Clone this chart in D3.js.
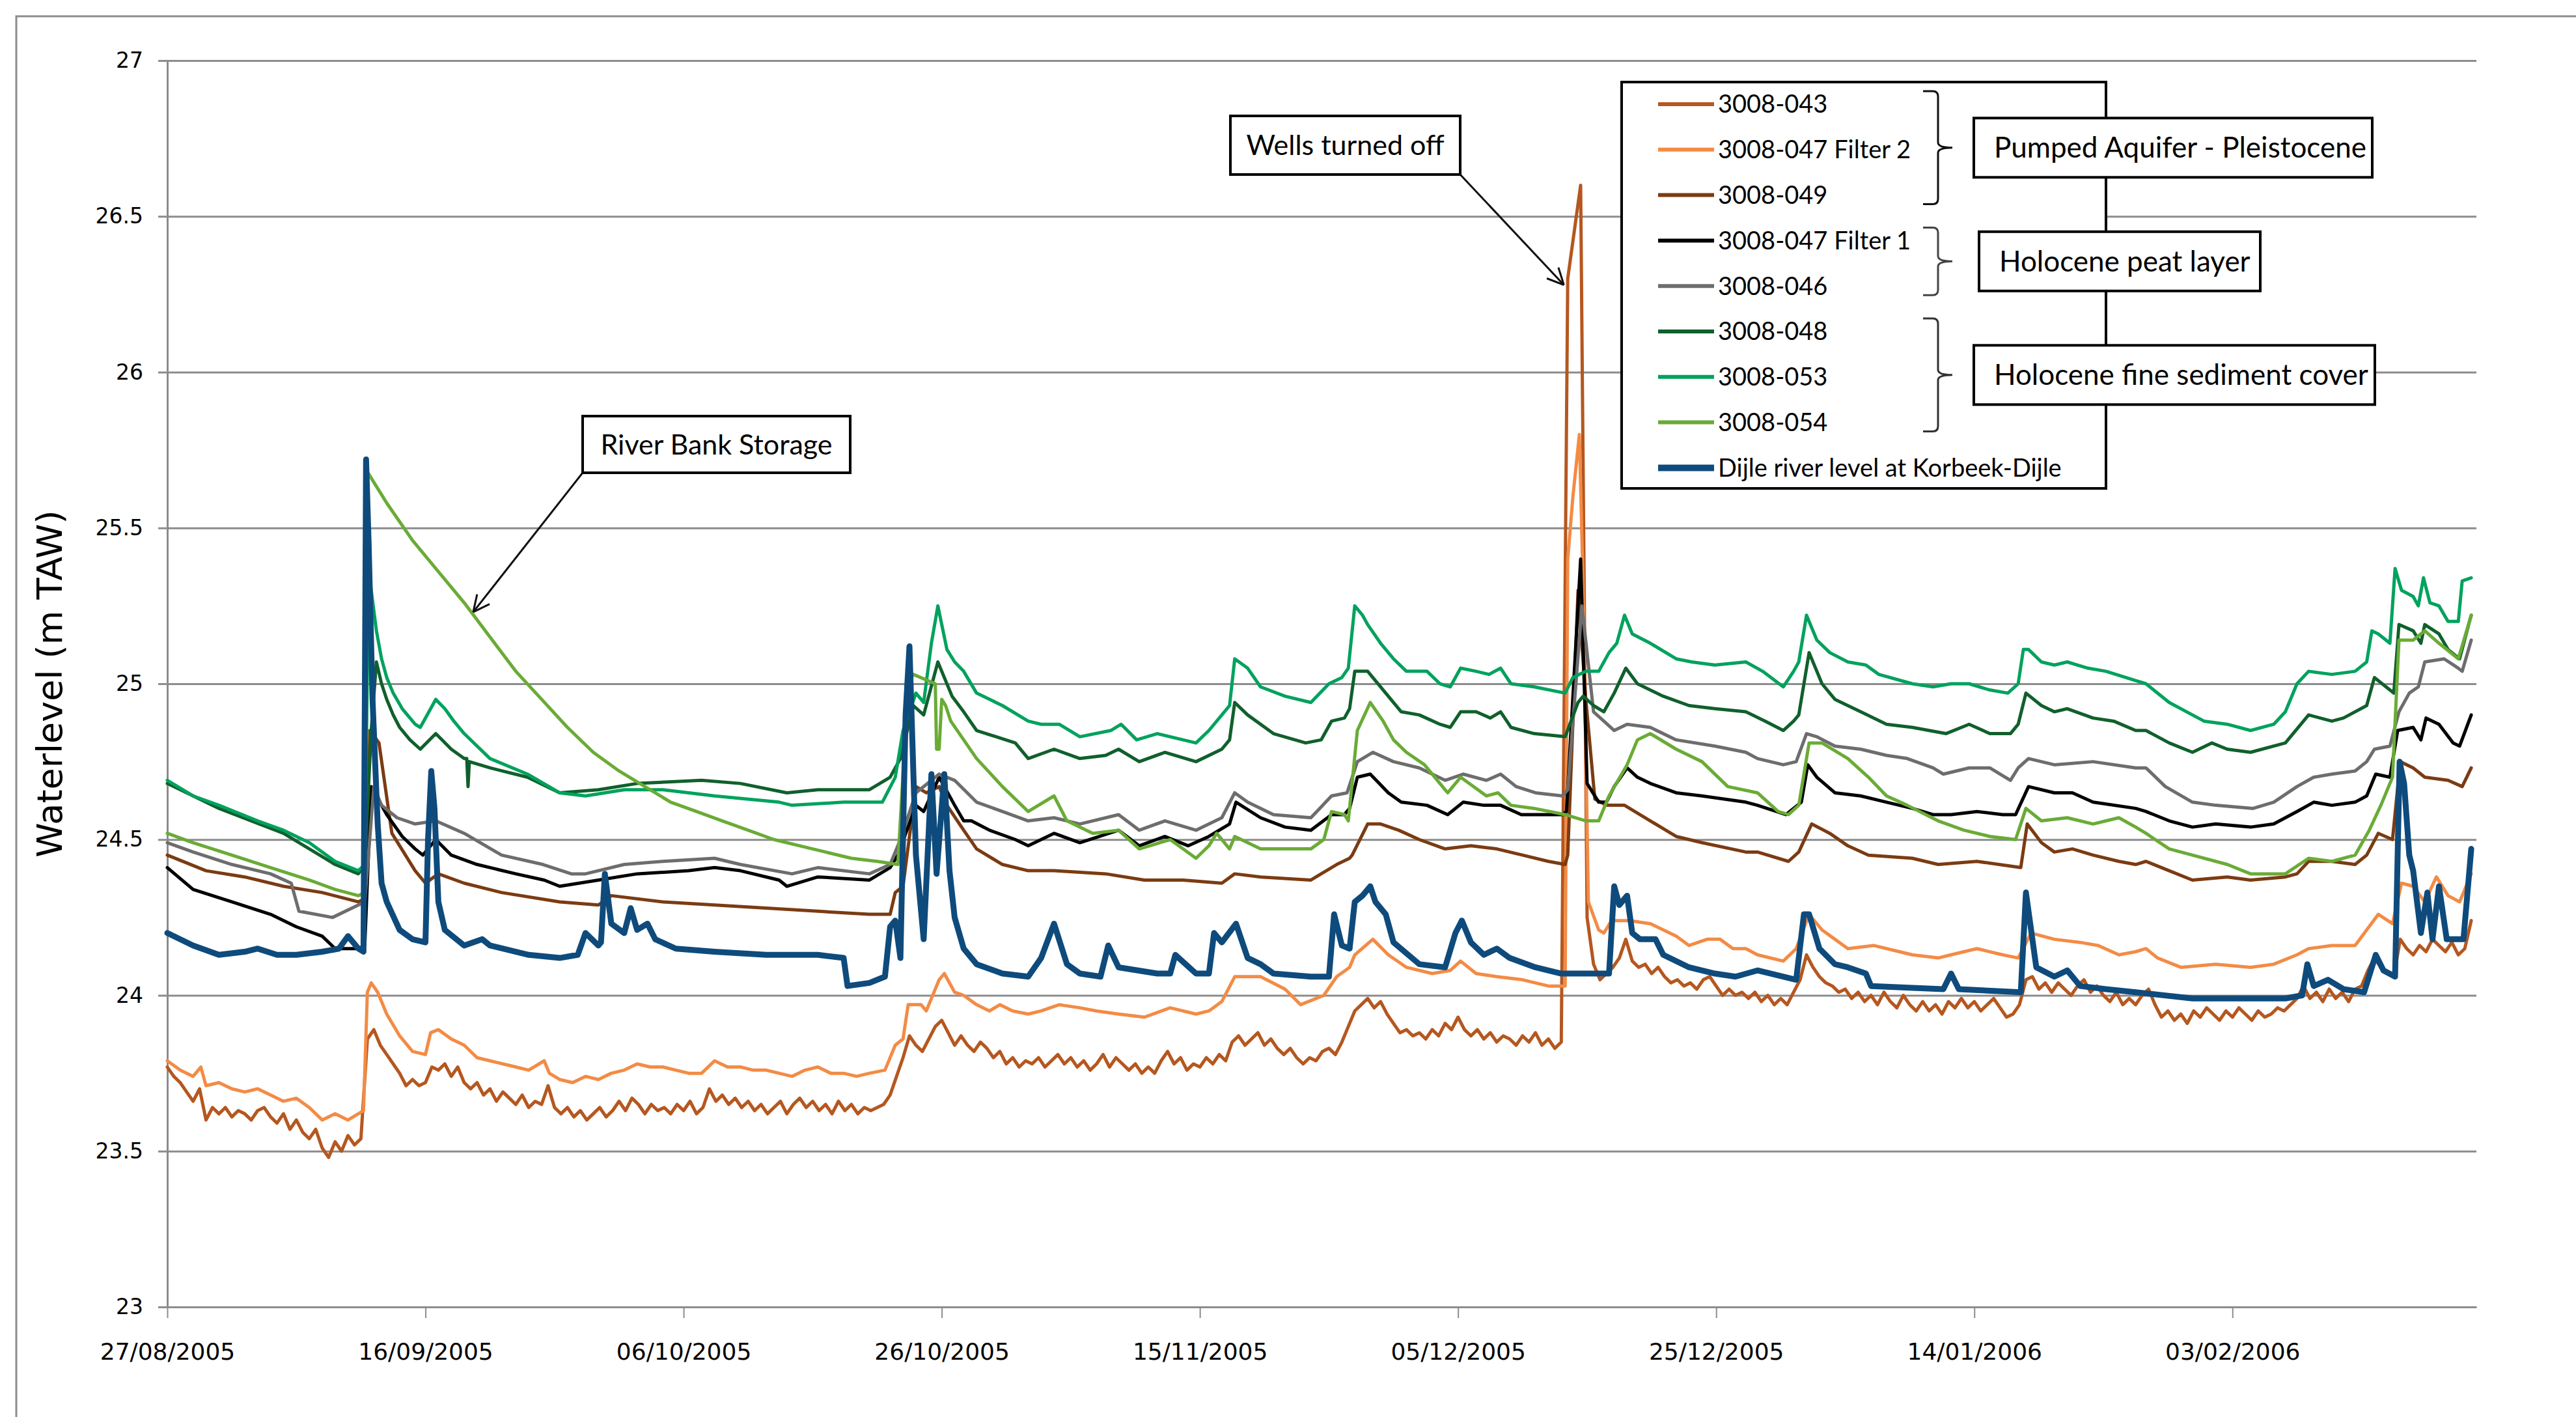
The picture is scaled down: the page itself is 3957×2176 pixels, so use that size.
<!DOCTYPE html>
<html>
<head>
<meta charset="utf-8">
<script src="https://cdn.jsdelivr.net/npm/d3@7"></script>
<style>
  html, body { margin: 0; padding: 0; background: #ffffff; }
  svg { display: block; }
</style>
</head>
<body>
<svg id="chart"></svg>
<script>
// ---------- data ----------
// Time is given in days after 27/08/2005 00:00.
const startDateText = "27/08/2005";
const lastDay = 178.9;

const yTickValues = [23, 23.5, 24, 24.5, 25, 25.5, 26, 26.5, 27];
const yTickLabels = ["23", "23.5", "24", "24.5", "25", "25.5", "26", "26.5", "27"];
const xTickLabels = ["27/08/2005", "16/09/2005", "06/10/2005", "26/10/2005", "15/11/2005",
                     "05/12/2005", "25/12/2005", "14/01/2006", "03/02/2006"];

const seriesNames = ["3008-043", "3008-047 Filter 2", "3008-049", "3008-047 Filter 1", "3008-046",
                     "3008-048", "3008-053", "3008-054", "Dijle river level at Korbeek-Dijle"];

// 3008-043: readings every half day from day 0
const s043Step = 0.5;
const s043 = [
  23.77,23.74,23.72,23.69,23.66,23.70,23.60,23.64,23.62,23.64,23.61,23.63,23.62,23.60,23.63,23.64,23.61,23.59,23.62,23.57,
  23.60,23.56,23.54,23.57,23.51,23.48,23.53,23.50,23.55,23.52,23.54,23.86,23.89,23.84,23.81,23.78,23.75,23.71,23.73,23.71,
  23.72,23.77,23.76,23.78,23.74,23.77,23.72,23.70,23.72,23.68,23.70,23.66,23.69,23.67,23.65,23.68,23.64,23.66,23.65,23.71,
  23.64,23.62,23.64,23.61,23.63,23.60,23.62,23.64,23.61,23.63,23.66,23.63,23.67,23.65,23.62,23.65,23.63,23.64,23.62,23.65,
  23.63,23.66,23.62,23.64,23.70,23.66,23.68,23.65,23.67,23.64,23.66,23.63,23.65,23.62,23.64,23.66,23.62,23.65,23.67,23.64,
  23.66,23.63,23.65,23.62,23.66,23.63,23.65,23.62,23.64,23.63,23.64,23.65,23.68,23.74,23.80,23.87,23.84,23.82,23.86,23.90,
  23.92,23.88,23.84,23.87,23.84,23.82,23.85,23.83,23.80,23.82,23.78,23.80,23.77,23.79,23.78,23.80,23.77,23.79,23.81,23.78,
  23.80,23.77,23.79,23.76,23.78,23.81,23.77,23.80,23.78,23.76,23.78,23.75,23.77,23.75,23.79,23.82,23.78,23.80,23.76,23.78,
  23.77,23.80,23.78,23.81,23.79,23.85,23.87,23.84,23.86,23.88,23.84,23.86,23.83,23.81,23.83,23.80,23.78,23.80,23.79,23.82,
  23.83,23.81,23.85,23.90,23.95,23.97,23.99,23.96,23.98,23.94,23.91,23.88,23.89,23.87,23.88,23.86,23.89,23.87,23.91,23.89,
  23.93,23.89,23.87,23.89,23.86,23.88,23.85,23.87,23.86,23.84,23.87,23.85,23.88,23.84,23.86,23.83,23.85,26.30,26.45,26.60,
  24.25,24.10,24.05,24.07,24.09,24.12,24.18,24.11,24.09,24.10,24.07,24.09,24.06,24.04,24.05,24.03,24.04,24.02,24.05,24.06,
  24.03,24.00,24.02,24.00,24.01,23.99,24.01,23.98,24.00,23.97,23.99,23.97,24.01,24.05,24.13,24.09,24.06,24.04,24.03,24.01,
  24.02,23.99,24.01,23.98,24.00,23.97,24.01,23.98,23.96,24.00,23.97,23.95,23.98,23.95,23.97,23.94,23.98,23.96,23.99,23.96,
  23.98,23.95,23.97,23.99,23.96,23.93,23.94,23.97,24.05,24.06,24.02,24.04,24.01,24.04,24.02,24.00,24.03,24.05,24.01,24.03,
  24.00,23.98,24.01,23.97,23.99,23.97,24.00,24.02,23.97,23.93,23.95,23.92,23.94,23.91,23.95,23.93,23.96,23.94,23.92,23.95,
  23.93,23.96,23.94,23.92,23.95,23.93,23.94,23.96,23.95,23.97,23.99,24.03,23.99,24.01,23.98,24.02,23.99,24.01,23.98,24.02,
  24.03,24.08,24.12,24.09,24.07,24.06,24.18,24.15,24.13,24.16,24.14,24.18,24.16,24.14,24.17,24.13,24.15,24.24
];

// the remaining series as [day, level] pairs
const s047f2 = [[0,23.79],[1,23.76],[2,23.74],[2.6,23.77],[3,23.71],[4,23.72],[5,23.70],[6,23.69],[7,23.70],[8,23.68],[9,23.66],[10,23.67],[11,23.64],[12,23.60],[13,23.62],[14,23.60],[14.8,23.62],[15.2,23.63],[15.5,24.01],[15.8,24.04],[16.3,24.01],[17,23.94],[18,23.87],[19,23.82],[20,23.81],[20.4,23.88],[21,23.89],[22,23.86],[23,23.84],[24,23.80],[25,23.79],[26,23.78],[27,23.77],[28,23.76],[29.2,23.79],[29.6,23.75],[30.4,23.73],[31.4,23.72],[32.4,23.74],[33.4,23.73],[34.4,23.75],[35.4,23.76],[36.4,23.78],[37.4,23.77],[38.4,23.77],[39.4,23.76],[40.4,23.75],[41.4,23.75],[42.4,23.79],[43.4,23.77],[44.4,23.77],[45.4,23.76],[46.4,23.76],[47.4,23.75],[48.4,23.74],[49.4,23.76],[50.4,23.77],[51.4,23.75],[52.4,23.75],[53.4,23.74],[54.4,23.75],[55.6,23.76],[56.4,23.84],[57.0,23.86],[57.4,23.97],[58.4,23.97],[58.8,23.95],[59.8,24.05],[60.2,24.07],[61.0,24.01],[61.7,24.00],[62.7,23.97],[63.7,23.95],[64.5,23.97],[65.5,23.95],[66.7,23.94],[67.7,23.95],[69.1,23.97],[70.7,23.96],[72.0,23.95],[73.7,23.94],[75.7,23.93],[77.7,23.96],[79.7,23.94],[80.7,23.95],[81.7,23.98],[82.7,24.06],[84.7,24.06],[86.6,24.02],[87.8,23.97],[89.6,24.00],[90.6,24.06],[91.6,24.09],[92.0,24.13],[93.4,24.18],[94.6,24.13],[96.0,24.09],[98.0,24.07],[99.4,24.08],[100.2,24.11],[101.4,24.07],[103.0,24.06],[105.0,24.05],[107.0,24.03],[108.3,24.03],[108.5,25.40],[108.9,25.60],[109.4,25.80],[109.7,25.30],[110.1,24.30],[110.9,24.21],[111.3,24.20],[111.9,24.24],[113.3,24.24],[114.9,24.23],[116.9,24.19],[117.9,24.16],[119.3,24.18],[120.3,24.18],[121.3,24.15],[122.3,24.15],[123.2,24.13],[125.2,24.11],[126.2,24.15],[127.2,24.26],[128.2,24.21],[129.2,24.18],[130.2,24.15],[132.2,24.16],[134.2,24.14],[135.2,24.13],[137.2,24.12],[138.2,24.13],[140.2,24.15],[142.2,24.13],[143.4,24.12],[144.4,24.20],[146.2,24.18],[148.2,24.17],[149.6,24.16],[151.2,24.13],[152.5,24.14],[153.3,24.15],[154.2,24.12],[156.0,24.09],[158.7,24.10],[161.4,24.09],[163.2,24.10],[165.0,24.13],[165.9,24.15],[167.7,24.16],[169.5,24.16],[171.3,24.26],[172.4,24.23],[173.1,24.36],[174.0,24.35],[174.9,24.30],[175.8,24.38],[176.7,24.32],[177.6,24.30],[178.5,24.39]];

const s049 = [[0,24.45],[3,24.40],[6,24.38],[9,24.35],[12,24.33],[14.8,24.30],[15.3,24.31],[15.7,24.85],[16.4,24.81],[17.4,24.52],[19.2,24.40],[20.0,24.36],[21.0,24.39],[23.0,24.36],[25.9,24.33],[30.4,24.30],[33.4,24.29],[34.4,24.32],[38.4,24.30],[42.4,24.29],[46.4,24.28],[50.4,24.27],[54.4,24.26],[56.0,24.26],[56.4,24.33],[57.0,24.35],[58.0,24.67],[58.8,24.65],[59.8,24.67],[60.4,24.61],[61.7,24.53],[62.7,24.47],[64.7,24.42],[66.7,24.40],[68.7,24.40],[72.7,24.39],[75.7,24.37],[78.7,24.37],[81.7,24.36],[82.7,24.39],[84.7,24.38],[88.6,24.37],[90.6,24.42],[91.6,24.44],[91.8,24.45],[93.0,24.55],[94.0,24.55],[95.4,24.53],[97.0,24.50],[99.0,24.47],[101.0,24.48],[103.0,24.47],[105.0,24.45],[107.0,24.43],[108.3,24.42],[108.5,24.45],[109.3,25.30],[109.9,24.95],[110.6,24.63],[111.5,24.61],[112.9,24.61],[114.9,24.56],[116.9,24.51],[118.9,24.49],[122.3,24.46],[123.2,24.46],[125.6,24.43],[126.4,24.46],[127.4,24.55],[128.8,24.52],[130.2,24.48],[131.8,24.45],[135.2,24.44],[137.2,24.42],[140.2,24.43],[143.6,24.41],[144.1,24.55],[145.2,24.49],[146.2,24.46],[147.6,24.47],[149.2,24.45],[151.2,24.43],[152.5,24.42],[153.3,24.43],[155.1,24.40],[156.9,24.37],[159.6,24.38],[161.4,24.37],[164.1,24.38],[165.0,24.39],[165.9,24.43],[167.7,24.43],[169.5,24.42],[170.4,24.45],[171.3,24.52],[172.4,24.50],[173.0,24.75],[174.0,24.73],[174.9,24.70],[176.7,24.69],[177.8,24.67],[178.5,24.73]];

const s047f1 = [[0,24.41],[2,24.34],[5,24.30],[8,24.26],[10,24.22],[12,24.19],[13,24.15],[14.8,24.15],[15.3,24.16],[15.8,24.67],[17.0,24.58],[18.2,24.51],[19.2,24.47],[19.8,24.45],[20.8,24.50],[22.0,24.45],[24.0,24.42],[27.0,24.39],[29.2,24.37],[30.4,24.35],[33.4,24.37],[36.4,24.39],[40.4,24.40],[42.4,24.41],[44.4,24.40],[47.4,24.37],[48.0,24.35],[50.4,24.38],[54.4,24.37],[56.0,24.41],[56.6,24.45],[58.0,24.61],[58.6,24.59],[59.8,24.70],[61.0,24.61],[61.7,24.56],[62.3,24.56],[63.7,24.53],[65.7,24.50],[66.7,24.48],[68.7,24.52],[70.7,24.49],[73.7,24.53],[75.3,24.48],[77.3,24.51],[79.1,24.48],[80.7,24.51],[82.3,24.55],[82.8,24.62],[84.7,24.57],[86.6,24.54],[88.6,24.53],[90.2,24.58],[91.2,24.58],[91.6,24.60],[92.2,24.70],[93.2,24.71],[94.6,24.65],[95.6,24.62],[97.6,24.61],[99.2,24.58],[100.4,24.62],[102.0,24.61],[103.3,24.61],[104.9,24.58],[108.1,24.58],[108.4,24.59],[109.5,25.40],[110.0,24.68],[110.9,24.62],[111.5,24.62],[112.1,24.67],[113.1,24.73],[113.9,24.70],[114.9,24.68],[116.9,24.65],[118.9,24.64],[122.3,24.62],[123.2,24.61],[125.4,24.58],[126.6,24.62],[127.1,24.74],[127.8,24.70],[129.2,24.65],[131.2,24.64],[133.2,24.62],[135.2,24.60],[136.8,24.58],[138.2,24.58],[140.2,24.59],[142.2,24.58],[143.2,24.58],[144.2,24.67],[146.2,24.65],[147.6,24.65],[149.2,24.62],[152.5,24.60],[153.3,24.59],[155.1,24.56],[156.9,24.54],[158.7,24.55],[161.4,24.54],[163.2,24.55],[165.0,24.59],[166.3,24.62],[167.7,24.61],[169.5,24.62],[170.4,24.64],[171.1,24.71],[172.2,24.70],[172.8,24.85],[174.0,24.86],[174.6,24.82],[175.0,24.89],[176.0,24.87],[177.1,24.81],[177.6,24.80],[178.5,24.90]];

const s046 = [[0,24.49],[2,24.46],[5,24.42],[8,24.39],[9.6,24.36],[10.2,24.27],[12.8,24.25],[14.8,24.29],[15.3,24.30],[16.0,24.67],[16.6,24.61],[17.8,24.57],[19.2,24.55],[20.8,24.56],[23.0,24.52],[25.9,24.45],[29.1,24.42],[31.3,24.39],[32.4,24.39],[35.4,24.42],[38.4,24.43],[42.4,24.44],[44.4,24.42],[48.4,24.39],[50.4,24.41],[54.4,24.39],[56.0,24.42],[56.8,24.50],[58.0,24.65],[59.8,24.71],[61.0,24.69],[62.7,24.62],[64.7,24.59],[66.7,24.56],[68.7,24.57],[70.7,24.55],[73.7,24.58],[75.3,24.53],[77.3,24.56],[79.7,24.53],[81.7,24.57],[82.7,24.65],[83.7,24.62],[85.7,24.58],[88.6,24.57],[90.2,24.64],[91.4,24.65],[92.2,24.75],[93.4,24.78],[95.0,24.75],[97.0,24.73],[99.0,24.69],[100.4,24.71],[102.2,24.69],[103.3,24.71],[104.5,24.67],[106.0,24.65],[108.1,24.64],[108.5,24.66],[109.6,25.25],[110.5,24.91],[111.3,24.88],[112.1,24.85],[113.1,24.87],[114.9,24.86],[116.9,24.82],[119.9,24.80],[122.3,24.78],[123.2,24.76],[125.2,24.74],[126.2,24.75],[127.0,24.84],[127.8,24.83],[129.2,24.80],[131.2,24.79],[133.2,24.77],[134.8,24.76],[136.8,24.73],[137.6,24.71],[139.6,24.73],[141.2,24.73],[142.8,24.69],[143.4,24.73],[144.2,24.76],[146.2,24.74],[149.2,24.75],[152.5,24.73],[153.3,24.73],[154.8,24.67],[156.9,24.62],[158.7,24.61],[161.6,24.60],[163.2,24.62],[165.0,24.67],[166.3,24.70],[167.7,24.71],[169.5,24.72],[170.4,24.75],[171.0,24.79],[172.2,24.80],[172.9,24.91],[173.7,24.97],[174.4,24.99],[174.9,25.07],[176.4,25.08],[177.5,25.05],[177.8,25.04],[178.5,25.14]];

const s048 = [[0,24.68],[4,24.60],[9,24.52],[13,24.42],[14.8,24.39],[15.3,24.42],[15.8,24.85],[16.2,25.07],[16.6,25.00],[17.0,24.95],[17.5,24.90],[18.0,24.86],[18.8,24.82],[19.6,24.79],[20.8,24.84],[22.0,24.79],[23.0,24.76],[23.2,24.76],[23.3,24.67],[23.4,24.75],[25.0,24.73],[27.9,24.70],[30.4,24.65],[33.4,24.66],[36.4,24.68],[41.4,24.69],[44.4,24.68],[48.0,24.65],[50.4,24.66],[54.4,24.66],[56.0,24.70],[56.8,24.76],[57.8,24.93],[58.6,24.90],[59.7,25.07],[60.8,24.96],[61.7,24.91],[62.7,24.85],[65.7,24.81],[66.7,24.76],[68.7,24.79],[70.7,24.76],[72.7,24.77],[73.7,24.79],[75.3,24.75],[77.3,24.78],[79.7,24.75],[81.7,24.79],[82.3,24.82],[82.7,24.94],[83.7,24.90],[85.7,24.84],[88.2,24.81],[89.4,24.82],[90.2,24.88],[91.2,24.89],[91.6,24.92],[92.0,25.04],[93.0,25.04],[94.4,24.97],[95.6,24.91],[97.0,24.90],[98.6,24.87],[99.4,24.86],[100.2,24.91],[101.4,24.91],[102.5,24.89],[103.3,24.91],[104.1,24.86],[105.9,24.84],[108.3,24.83],[109.3,24.94],[109.7,24.96],[110.5,24.93],[111.3,24.91],[112.1,24.97],[113.0,25.05],[113.9,25.00],[115.9,24.96],[117.9,24.93],[119.9,24.92],[122.3,24.91],[123.8,24.88],[125.2,24.85],[126.0,24.88],[126.4,24.90],[127.2,25.10],[128.2,25.00],[129.2,24.95],[131.2,24.91],[133.2,24.87],[135.2,24.86],[137.8,24.84],[139.6,24.87],[141.2,24.84],[142.8,24.84],[143.4,24.87],[144.0,24.97],[145.2,24.93],[146.2,24.91],[147.2,24.92],[149.2,24.89],[150.8,24.88],[152.5,24.85],[153.3,24.85],[155.1,24.81],[156.9,24.78],[158.4,24.81],[159.6,24.79],[161.4,24.78],[164.1,24.81],[165.9,24.90],[167.7,24.88],[168.6,24.89],[170.4,24.93],[171.0,25.02],[172.2,24.98],[172.5,24.97],[172.9,25.19],[174.0,25.17],[174.6,25.13],[174.9,25.19],[176.0,25.16],[176.7,25.11],[177.6,25.08],[178.3,25.19],[178.5,25.22]];

const s053 = [[0,24.69],[2,24.64],[4,24.61],[7,24.56],[9,24.53],[11,24.49],[13,24.43],[14.8,24.40],[15.3,24.42],[15.6,25.35],[15.8,25.30],[16.2,25.17],[16.6,25.08],[17.0,25.02],[17.5,24.97],[18.2,24.92],[19.2,24.87],[19.6,24.86],[20.8,24.95],[21.5,24.92],[22.2,24.88],[23,24.84],[25,24.76],[27.9,24.71],[30.4,24.65],[32.4,24.64],[35.4,24.66],[38.4,24.66],[42.4,24.64],[47.4,24.62],[48.4,24.61],[52.4,24.62],[55.4,24.62],[56.4,24.70],[57.0,24.85],[58.0,24.97],[58.6,24.94],[59.2,25.13],[59.7,25.25],[60.4,25.11],[61.0,25.07],[61.7,25.04],[62.7,24.97],[64.7,24.93],[66.7,24.88],[67.7,24.87],[69.1,24.87],[70.7,24.83],[73.1,24.85],[73.9,24.87],[75.1,24.82],[76.7,24.84],[79.7,24.81],[80.7,24.85],[81.9,24.91],[82.3,24.93],[82.7,25.08],[83.7,25.05],[84.7,24.99],[86.6,24.96],[88.6,24.94],[90.0,25.00],[91.0,25.02],[91.5,25.05],[92.0,25.25],[92.6,25.22],[93.0,25.19],[94.0,25.13],[95.0,25.08],[96.0,25.04],[97.0,25.04],[97.6,25.04],[98.6,25.00],[99.4,24.99],[100.2,25.05],[101.4,25.04],[102.4,25.03],[103.3,25.05],[104.1,25.00],[105.9,24.99],[108.3,24.97],[108.9,25.02],[109.9,25.04],[110.9,25.04],[111.7,25.10],[112.3,25.13],[112.9,25.22],[113.5,25.16],[114.9,25.13],[116.9,25.08],[118.1,25.07],[119.9,25.06],[122.3,25.07],[123.6,25.04],[125.2,24.99],[126.0,25.04],[126.4,25.07],[127.0,25.22],[127.8,25.14],[128.8,25.10],[130.2,25.07],[131.6,25.06],[132.6,25.03],[135.2,25.00],[136.8,24.99],[138.2,25.00],[139.6,25.00],[141.2,24.98],[142.6,24.97],[143.4,25.00],[143.8,25.11],[144.2,25.11],[145.2,25.07],[146.2,25.06],[147.2,25.07],[148.8,25.05],[150.2,25.04],[152.5,25.01],[153.3,25.00],[155.1,24.94],[156.9,24.90],[157.8,24.88],[159.6,24.87],[161.4,24.85],[163.2,24.87],[164.1,24.91],[165.0,25.00],[165.9,25.04],[167.7,25.03],[169.5,25.04],[170.4,25.07],[170.8,25.17],[171.3,25.16],[172.2,25.13],[172.6,25.37],[173.1,25.30],[174.0,25.28],[174.4,25.25],[174.8,25.34],[175.3,25.26],[176.0,25.25],[176.7,25.20],[177.5,25.20],[177.8,25.33],[178.5,25.34]];

const s054 = [[0,24.52],[2,24.49],[5,24.45],[8,24.41],[11,24.37],[13,24.34],[14.8,24.32],[15.3,24.33],[15.5,25.68],[17,25.58],[19,25.46],[21,25.36],[23,25.26],[25,25.15],[27,25.04],[29,24.95],[31,24.86],[33,24.78],[35,24.72],[37,24.67],[39,24.62],[41,24.59],[43,24.56],[45,24.53],[47,24.50],[49,24.48],[51,24.46],[53,24.44],[55,24.43],[56.6,24.42],[57.4,25.00],[57.8,25.03],[59.5,25.00],[59.6,24.79],[59.8,24.79],[60.0,24.95],[60.3,24.93],[60.7,24.88],[61.7,24.82],[62.7,24.76],[64.7,24.67],[66.7,24.59],[68.7,24.64],[69.7,24.56],[71.7,24.52],[73.7,24.53],[75.3,24.47],[77.7,24.50],[79.7,24.44],[80.7,24.48],[81.3,24.52],[82.3,24.47],[82.7,24.51],[84.7,24.47],[88.6,24.47],[89.6,24.50],[90.2,24.59],[91.2,24.58],[91.5,24.56],[92.2,24.85],[93.2,24.94],[94.2,24.88],[95.0,24.82],[96.0,24.78],[97.4,24.74],[98.6,24.68],[99.2,24.65],[100.2,24.70],[102.2,24.64],[103.1,24.65],[104.1,24.61],[105.9,24.60],[108.3,24.58],[109.9,24.56],[110.9,24.56],[111.7,24.64],[113.1,24.74],[113.9,24.82],[114.9,24.84],[116.9,24.79],[118.9,24.75],[120.9,24.67],[123.2,24.65],[124.8,24.59],[125.6,24.58],[126.4,24.61],[127.2,24.81],[128.2,24.81],[130.2,24.76],[131.8,24.70],[133.2,24.64],[134.8,24.61],[137.2,24.56],[139.2,24.53],[141.2,24.51],[143.2,24.50],[144.0,24.60],[145.2,24.56],[147.2,24.57],[149.2,24.55],[151.2,24.57],[152.5,24.54],[153.3,24.52],[155.1,24.47],[156.9,24.45],[159.6,24.42],[161.4,24.39],[164.1,24.39],[165.9,24.44],[167.7,24.43],[169.5,24.45],[170.6,24.53],[171.5,24.61],[172.4,24.70],[172.9,25.14],[174.0,25.14],[174.9,25.17],[176.0,25.13],[177.5,25.08],[178.5,25.22]];

const sDijle = [[0,24.20],[2,24.16],[4,24.13],[6,24.14],[7,24.15],[8.5,24.13],[10,24.13],[12,24.14],[13.3,24.15],[14,24.19],[14.4,24.17],[14.8,24.15],[15.2,24.14],[15.4,25.72],[15.6,25.45],[15.9,24.95],[16.3,24.55],[16.6,24.36],[17,24.30],[18,24.21],[19,24.18],[20,24.17],[20.2,24.50],[20.45,24.72],[20.7,24.60],[21,24.30],[21.5,24.21],[23,24.16],[24.4,24.18],[25,24.16],[28,24.13],[30.4,24.12],[31.8,24.13],[32.4,24.20],[33.4,24.16],[33.6,24.17],[33.9,24.39],[34.4,24.23],[35.4,24.20],[35.9,24.28],[36.4,24.21],[37.2,24.23],[37.8,24.18],[39.4,24.15],[42.4,24.14],[46.4,24.13],[50.4,24.13],[52.4,24.12],[52.7,24.03],[54.4,24.04],[55.6,24.06],[56.0,24.22],[56.4,24.24],[56.8,24.12],[57.2,24.90],[57.5,25.12],[58.0,24.45],[58.6,24.18],[59.2,24.71],[59.6,24.39],[60.2,24.71],[60.6,24.40],[61.0,24.25],[61.7,24.15],[62.7,24.10],[64.7,24.07],[66.7,24.06],[67.7,24.12],[68.7,24.23],[69.7,24.10],[70.7,24.07],[72.3,24.06],[72.9,24.16],[73.7,24.09],[76.7,24.07],[77.7,24.07],[78.1,24.13],[79.7,24.07],[80.7,24.07],[81.1,24.20],[81.7,24.17],[82.8,24.23],[83.7,24.12],[84.7,24.10],[85.7,24.07],[88.6,24.06],[90.0,24.06],[90.4,24.26],[91.0,24.16],[91.6,24.15],[92.0,24.30],[92.6,24.32],[93.2,24.35],[93.6,24.30],[94.4,24.26],[95.0,24.17],[97.0,24.10],[99.0,24.09],[99.8,24.20],[100.3,24.24],[101.0,24.17],[102.0,24.13],[103.0,24.15],[104.0,24.12],[106.0,24.09],[108.0,24.07],[111.7,24.07],[112.1,24.35],[112.5,24.29],[113.1,24.32],[113.5,24.20],[114.1,24.18],[115.3,24.18],[115.9,24.13],[117.9,24.09],[119.9,24.07],[121.5,24.06],[123.2,24.08],[126.2,24.05],[126.8,24.26],[127.2,24.26],[128.0,24.15],[129.2,24.10],[130.2,24.09],[131.6,24.07],[132.0,24.03],[137.6,24.02],[138.2,24.07],[138.8,24.02],[143.6,24.01],[144.0,24.33],[144.8,24.09],[146.2,24.06],[147.2,24.08],[148.2,24.03],[150.2,24.02],[152.5,24.01],[156.9,23.99],[164.1,23.99],[165.4,24.00],[165.8,24.10],[166.3,24.03],[167.4,24.05],[168.6,24.02],[170.2,24.01],[171.1,24.13],[171.7,24.08],[172.6,24.06],[172.95,24.75],[173.3,24.68],[173.7,24.45],[174.0,24.40],[174.6,24.20],[175.1,24.33],[175.5,24.18],[176.0,24.35],[176.6,24.18],[177.9,24.18],[178.5,24.47]];

// Legend groups (by series index) and callout notes (day, level the arrow points at)
const groupLabels = ["Pumped Aquifer - Pleistocene", "Holocene peat layer", "Holocene fine sediment cover"];
const groupMembers = [[0, 2], [3, 4], [5, 7]];
const noteTexts = ["River Bank Storage", "Wells turned off"];
const noteTargets = [[23.7, 25.23], [108.2, 26.28]];

// ---------- styling & layout ----------
const W = 3957, H = 2176;
const plot = { left: 257, right: 3804, top: 93, bottom: 2007 };
const seriesColors = ["#b5571f", "#f38b45", "#7b3b12", "#000000", "#6d6d6d",
                      "#10602c", "#00a25e", "#6aab36", "#0e4b7c"];
const seriesWidths = [5, 5, 5, 5, 5, 5, 5, 5, 9];
const gridColor = "#8c8c8c";
const axisFont = "'DejaVu Sans', Verdana, sans-serif";
const boxFont = "Lato, 'Open Sans', sans-serif";

const svg = d3.select("#chart").attr("width", W).attr("height", H)
  .attr("viewBox", `0 0 ${W} ${H}`);
svg.append("rect").attr("width", W).attr("height", H).attr("fill", "#ffffff");

// chart-area frame (only the top and left sides fall inside the page)
svg.append("path")
  .attr("d", `M25,${H} L25,25 L${W},25`)
  .attr("fill", "none").attr("stroke", gridColor).attr("stroke-width", 3);

// scales
const parseDay = d3.utcParse("%d/%m/%Y");
const t0 = parseDay(startDateText);
const dayToDate = d => new Date(t0.getTime() + d * 864e5);
const x = d3.scaleUtc().domain([t0, dayToDate(lastDay)]).range([plot.left, plot.right]);
const y = d3.scaleLinear().domain([23, 27]).range([plot.bottom, plot.top]);

// horizontal gridlines
const grid = svg.append("g").attr("transform", `translate(${plot.left},0)`)
  .call(d3.axisLeft(y).tickValues(yTickValues.slice(1))
    .tickSize(-(plot.right - plot.left)).tickFormat(""));
grid.select(".domain").remove();
grid.selectAll("line").attr("stroke", gridColor).attr("stroke-width", 3);

// y axis
const yAxis = svg.append("g").attr("transform", `translate(${plot.left},0)`)
  .call(d3.axisLeft(y).tickValues(yTickValues).tickSize(14).tickSizeOuter(0)
    .tickPadding(23).tickFormat((d, i) => yTickLabels[i]));
yAxis.select(".domain").attr("stroke", gridColor).attr("stroke-width", 3);
yAxis.selectAll(".tick line").attr("stroke", gridColor).attr("stroke-width", 3);
yAxis.selectAll("text").attr("font-family", axisFont).attr("font-size", 33).attr("fill", "#000");

// x axis
const xAxis = svg.append("g").attr("transform", `translate(0,${plot.bottom})`)
  .call(d3.axisBottom(x).tickValues(xTickLabels.map(parseDay)).tickSize(17).tickSizeOuter(0)
    .tickPadding(38).tickFormat((d, i) => xTickLabels[i]));
xAxis.select(".domain").attr("stroke", gridColor).attr("stroke-width", 3);
xAxis.selectAll(".tick line").attr("stroke", gridColor).attr("stroke-width", 2);
xAxis.selectAll("text").attr("font-family", axisFont).attr("font-size", 36).attr("fill", "#000");

// y axis title
svg.append("text")
  .attr("transform", `translate(76,${(plot.top + plot.bottom) / 2}) rotate(-90)`)
  .attr("text-anchor", "middle").attr("dy", "0.35em")
  .attr("font-family", axisFont).attr("font-size", 54).attr("fill", "#000")
  .text("Waterlevel (m TAW)");

// series
const seriesData = [
  s043.map((v, i) => [i * s043Step, v]),
  s047f2, s049, s047f1, s046, s048, s053, s054, sDijle
];
const line = d3.line().x(d => x(dayToDate(d[0]))).y(d => y(d[1]));
svg.append("g").selectAll("path").data(seriesData).join("path")
  .attr("d", line)
  .attr("fill", "none")
  .attr("stroke", (d, i) => seriesColors[i])
  .attr("stroke-width", (d, i) => seriesWidths[i])
  .attr("stroke-linejoin", "round").attr("stroke-linecap", "round");

// open arrow helper
function arrow(g, x1, y1, x2, y2) {
  g.append("line").attr("x1", x1).attr("y1", y1).attr("x2", x2).attr("y2", y2)
    .attr("stroke", "#111").attr("stroke-width", 3);
  const a = Math.atan2(y2 - y1, x2 - x1), len = 28, spread = 0.45;
  [a + Math.PI - spread, a + Math.PI + spread].forEach(b => {
    g.append("line").attr("x1", x2).attr("y1", y2)
      .attr("x2", x2 + len * Math.cos(b)).attr("y2", y2 + len * Math.sin(b))
      .attr("stroke", "#111").attr("stroke-width", 3);
  });
}

// callout boxes
const noteBoxes = [
  { x: 895, y: 639, w: 411, h: 87, anchor: "bl" },
  { x: 1890, y: 178, w: 353, h: 90, anchor: "br" }
];
const notes = svg.append("g");
noteTexts.forEach((txt, i) => {
  const b = noteBoxes[i];
  const ax = b.anchor === "bl" ? b.x : b.x + b.w;
  const ay = b.y + b.h;
  arrow(notes, ax, ay, x(dayToDate(noteTargets[i][0])), y(noteTargets[i][1]));
  notes.append("rect").attr("x", b.x).attr("y", b.y).attr("width", b.w).attr("height", b.h)
    .attr("fill", "#fff").attr("stroke", "#000").attr("stroke-width", 4);
  notes.append("text").attr("x", b.x + b.w / 2).attr("y", b.y + b.h / 2).attr("dy", "0.35em")
    .attr("text-anchor", "middle")
    .attr("font-family", boxFont).attr("font-size", 43).attr("fill", "#000").text(txt);
});

// legend
const lg = svg.append("g");
const legendBox = { x: 2491, y: 126, w: 744, h: 624 };
const rowY = i => 160 + i * 69.8;
lg.append("rect").attr("x", legendBox.x).attr("y", legendBox.y)
  .attr("width", legendBox.w).attr("height", legendBox.h)
  .attr("fill", "#fff").attr("stroke", "#000").attr("stroke-width", 4);
seriesNames.forEach((name, i) => {
  lg.append("line").attr("x1", 2547).attr("x2", 2633).attr("y1", rowY(i)).attr("y2", rowY(i))
    .attr("stroke", seriesColors[i]).attr("stroke-width", seriesWidths[i] + 1);
  lg.append("text").attr("x", 2639).attr("y", rowY(i)).attr("dy", "0.35em")
    .attr("font-family", boxFont).attr("font-size", 38).attr("fill", "#000").text(name);
});

// braces and group boxes
const groupBoxes = [
  { x: 3032, w: 612 }, { x: 3040, w: 432 }, { x: 3032, w: 616 }
];
const braceColors = ["#111", "#444", "#333"];
groupLabels.forEach((label, gi) => {
  const [a, b] = groupMembers[gi];
  const top = rowY(a) - 20, bottom = rowY(b) + 14, mid = (top + bottom) / 2;
  const x0 = 2954, x1 = 2977, x2 = 2999, r = 8;
  lg.append("path")
    .attr("d", `M${x0},${top} L${x1 - r},${top} Q${x1},${top} ${x1},${top + r} L${x1},${mid - r} Q${x1},${mid} ${x2},${mid} Q${x1},${mid} ${x1},${mid + r} L${x1},${bottom - r} Q${x1},${bottom} ${x1 - r},${bottom} L${x0},${bottom}`)
    .attr("fill", "none").attr("stroke", braceColors[gi]).attr("stroke-width", 3);
  const gb = groupBoxes[gi], bh = 91;
  lg.append("rect").attr("x", gb.x).attr("y", mid - bh / 2).attr("width", gb.w).attr("height", bh)
    .attr("fill", "#fff").attr("stroke", "#000").attr("stroke-width", 4);
  lg.append("text").attr("x", gb.x + 31).attr("y", mid).attr("dy", "0.35em")
    .attr("font-family", boxFont).attr("font-size", 44).attr("fill", "#000").text(label);
});
</script>
</body>
</html>
